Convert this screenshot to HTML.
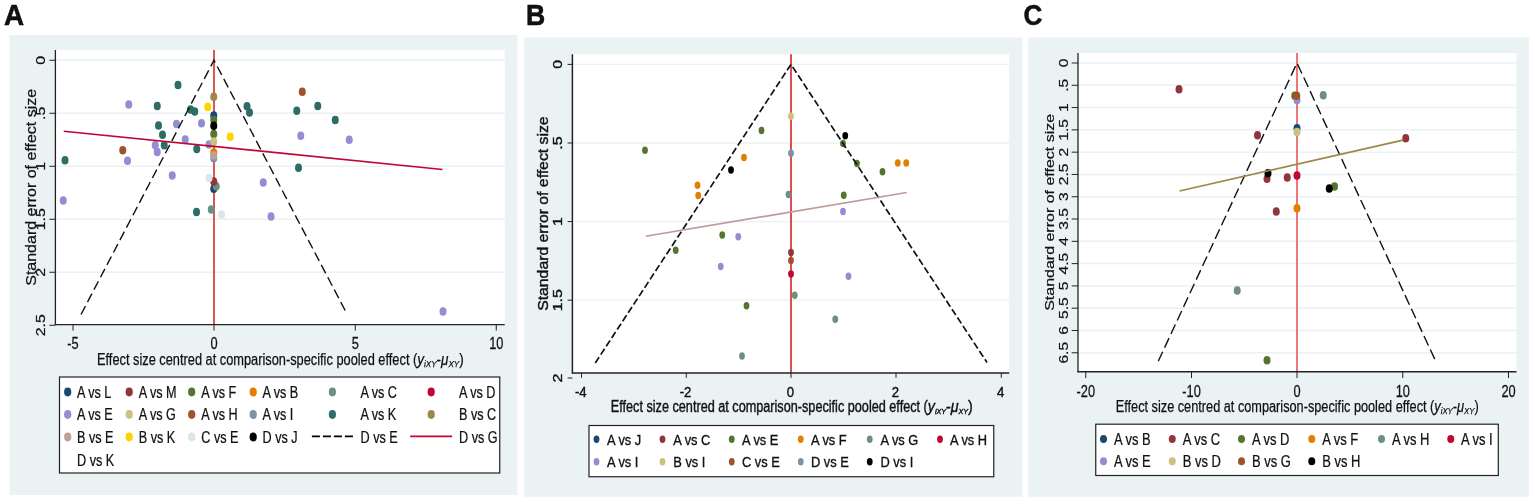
<!DOCTYPE html>
<html><head><meta charset="utf-8"><title>Funnel plots</title>
<style>html,body{margin:0;padding:0;background:#fff}svg{display:block}text{font-family:"Liberation Sans",Arial,sans-serif;fill:#111}</style></head><body>
<svg width="1535" height="504" viewBox="0 0 1535 504">
<rect width="1535" height="504" fill="#fff"/>
<rect x="9.5" y="35" width="508.0" height="460" fill="#eaf2f3"/>
<rect x="55.4" y="50" width="449.3" height="274.6" fill="#fff"/>
<line x1="55.4" x2="504.7" y1="60.25" y2="60.25" stroke="#eaf2f3" stroke-width="1.3"/>
<line x1="55.4" x2="504.7" y1="113.25" y2="113.25" stroke="#eaf2f3" stroke-width="1.3"/>
<line x1="55.4" x2="504.7" y1="166.25" y2="166.25" stroke="#eaf2f3" stroke-width="1.3"/>
<line x1="55.4" x2="504.7" y1="219.25" y2="219.25" stroke="#eaf2f3" stroke-width="1.3"/>
<line x1="55.4" x2="504.7" y1="272.25" y2="272.25" stroke="#eaf2f3" stroke-width="1.3"/>
<line x1="214" x2="214" y1="50" y2="324.6" stroke="#db5654" stroke-width="2"/>
<ellipse cx="213.75" cy="115.50" rx="3.5" ry="4.3" fill="#1a476f"/>
<ellipse cx="213.75" cy="188.75" rx="3.5" ry="4.3" fill="#1a476f"/>
<ellipse cx="213.75" cy="120.00" rx="3.5" ry="4.3" fill="#55752f"/>
<ellipse cx="213.75" cy="134.00" rx="3.5" ry="4.3" fill="#55752f"/>
<ellipse cx="213.75" cy="152.50" rx="3.5" ry="4.3" fill="#e37e00"/>
<ellipse cx="216.25" cy="186.25" rx="3.5" ry="4.3" fill="#6e8e84"/>
<ellipse cx="211.25" cy="209.50" rx="3.5" ry="4.3" fill="#6e8e84"/>
<ellipse cx="213.75" cy="181.50" rx="3.5" ry="4.3" fill="#90353b"/>
<ellipse cx="128.75" cy="104.50" rx="3.5" ry="4.3" fill="#938dd2"/>
<ellipse cx="201.50" cy="123.25" rx="3.5" ry="4.3" fill="#938dd2"/>
<ellipse cx="176.50" cy="124.00" rx="3.5" ry="4.3" fill="#938dd2"/>
<ellipse cx="185.25" cy="139.50" rx="3.5" ry="4.3" fill="#938dd2"/>
<ellipse cx="209.00" cy="144.50" rx="3.5" ry="4.3" fill="#938dd2"/>
<ellipse cx="155.25" cy="145.25" rx="3.5" ry="4.3" fill="#938dd2"/>
<ellipse cx="157.25" cy="152.00" rx="3.5" ry="4.3" fill="#938dd2"/>
<ellipse cx="127.50" cy="160.75" rx="3.5" ry="4.3" fill="#938dd2"/>
<ellipse cx="172.25" cy="175.50" rx="3.5" ry="4.3" fill="#938dd2"/>
<ellipse cx="63.25" cy="200.50" rx="3.5" ry="4.3" fill="#938dd2"/>
<ellipse cx="300.75" cy="135.75" rx="3.5" ry="4.3" fill="#938dd2"/>
<ellipse cx="349.25" cy="139.75" rx="3.5" ry="4.3" fill="#938dd2"/>
<ellipse cx="263.25" cy="182.50" rx="3.5" ry="4.3" fill="#938dd2"/>
<ellipse cx="271.00" cy="216.50" rx="3.5" ry="4.3" fill="#938dd2"/>
<ellipse cx="443.00" cy="311.50" rx="3.5" ry="4.3" fill="#938dd2"/>
<ellipse cx="213.75" cy="141.50" rx="3.5" ry="4.3" fill="#cac27e"/>
<ellipse cx="122.75" cy="150.25" rx="3.5" ry="4.3" fill="#a0522d"/>
<ellipse cx="302.25" cy="91.75" rx="3.5" ry="4.3" fill="#a0522d"/>
<ellipse cx="213.75" cy="158.25" rx="3.5" ry="4.3" fill="#7b92a8"/>
<ellipse cx="178.00" cy="85.00" rx="3.5" ry="4.3" fill="#2d6d66"/>
<ellipse cx="157.25" cy="106.00" rx="3.5" ry="4.3" fill="#2d6d66"/>
<ellipse cx="190.50" cy="109.50" rx="3.5" ry="4.3" fill="#2d6d66"/>
<ellipse cx="194.75" cy="111.50" rx="3.5" ry="4.3" fill="#2d6d66"/>
<ellipse cx="247.00" cy="106.25" rx="3.5" ry="4.3" fill="#2d6d66"/>
<ellipse cx="249.50" cy="112.50" rx="3.5" ry="4.3" fill="#2d6d66"/>
<ellipse cx="158.50" cy="125.50" rx="3.5" ry="4.3" fill="#2d6d66"/>
<ellipse cx="162.50" cy="134.75" rx="3.5" ry="4.3" fill="#2d6d66"/>
<ellipse cx="164.25" cy="145.25" rx="3.5" ry="4.3" fill="#2d6d66"/>
<ellipse cx="196.75" cy="149.00" rx="3.5" ry="4.3" fill="#2d6d66"/>
<ellipse cx="65.00" cy="160.25" rx="3.5" ry="4.3" fill="#2d6d66"/>
<ellipse cx="196.50" cy="212.00" rx="3.5" ry="4.3" fill="#2d6d66"/>
<ellipse cx="296.75" cy="110.75" rx="3.5" ry="4.3" fill="#2d6d66"/>
<ellipse cx="317.75" cy="106.00" rx="3.5" ry="4.3" fill="#2d6d66"/>
<ellipse cx="335.25" cy="120.00" rx="3.5" ry="4.3" fill="#2d6d66"/>
<ellipse cx="298.50" cy="167.75" rx="3.5" ry="4.3" fill="#2d6d66"/>
<ellipse cx="213.75" cy="96.75" rx="3.5" ry="4.3" fill="#9c8847"/>
<ellipse cx="213.75" cy="155.50" rx="3.5" ry="4.3" fill="#bfa19c"/>
<ellipse cx="207.75" cy="107.00" rx="3.5" ry="4.3" fill="#ffd200"/>
<ellipse cx="230.25" cy="136.75" rx="3.5" ry="4.3" fill="#ffd200"/>
<ellipse cx="209.00" cy="178.00" rx="3.5" ry="4.3" fill="#d9e6eb"/>
<ellipse cx="221.50" cy="214.50" rx="3.5" ry="4.3" fill="#d9e6eb"/>
<ellipse cx="213.75" cy="125.75" rx="3.5" ry="4.3" fill="#000000"/>
<path d="M81,314.5 L214,60.25 L346.5,313" fill="none" stroke="#111" stroke-width="1.4" stroke-dasharray="9.5 4.5"/>
<line x1="63.75" y1="131.25" x2="442.5" y2="169.5" stroke="#c10534" stroke-width="1.7"/>
<line x1="55.4" x2="55.4" y1="50" y2="325.1" stroke="#222" stroke-width="1.3"/>
<line x1="54.9" x2="504.7" y1="324.6" y2="324.6" stroke="#222" stroke-width="1.3"/>
<line x1="49.4" x2="55.4" y1="60.25" y2="60.25" stroke="#222" stroke-width="1"/>
<text transform="translate(45.20,60.25) rotate(-90) scale(1,0.82)" font-size="16" text-anchor="middle" stroke="#111" stroke-width="0.3">0</text>
<line x1="49.4" x2="55.4" y1="113.25" y2="113.25" stroke="#222" stroke-width="1"/>
<text transform="translate(45.20,113.25) rotate(-90) scale(1,0.82)" font-size="16" text-anchor="middle" stroke="#111" stroke-width="0.3">.5</text>
<line x1="49.4" x2="55.4" y1="166.25" y2="166.25" stroke="#222" stroke-width="1"/>
<text transform="translate(45.20,166.25) rotate(-90) scale(1,0.82)" font-size="16" text-anchor="middle" stroke="#111" stroke-width="0.3">1</text>
<line x1="49.4" x2="55.4" y1="219.25" y2="219.25" stroke="#222" stroke-width="1"/>
<text transform="translate(45.20,219.25) rotate(-90) scale(1,0.82)" font-size="16" text-anchor="middle" stroke="#111" stroke-width="0.3">1.5</text>
<line x1="49.4" x2="55.4" y1="272.25" y2="272.25" stroke="#222" stroke-width="1"/>
<text transform="translate(45.20,272.25) rotate(-90) scale(1,0.82)" font-size="16" text-anchor="middle" stroke="#111" stroke-width="0.3">2</text>
<line x1="49.4" x2="55.4" y1="325.25" y2="325.25" stroke="#222" stroke-width="1"/>
<text transform="translate(45.20,325.25) rotate(-90) scale(1,0.82)" font-size="16" text-anchor="middle" stroke="#111" stroke-width="0.3">2.5</text>
<line x1="73" x2="73" y1="324.6" y2="330.6" stroke="#222" stroke-width="1"/>
<text transform="translate(73.00,349.00) scale(0.8,1)" font-size="16" text-anchor="middle" stroke="#111" stroke-width="0.25">-5</text>
<line x1="214" x2="214" y1="324.6" y2="330.6" stroke="#222" stroke-width="1"/>
<text transform="translate(214.00,349.00) scale(0.8,1)" font-size="16" text-anchor="middle" stroke="#111" stroke-width="0.25">0</text>
<line x1="355.25" x2="355.25" y1="324.6" y2="330.6" stroke="#222" stroke-width="1"/>
<text transform="translate(355.25,349.00) scale(0.8,1)" font-size="16" text-anchor="middle" stroke="#111" stroke-width="0.25">5</text>
<line x1="496.25" x2="496.25" y1="324.6" y2="330.6" stroke="#222" stroke-width="1"/>
<text transform="translate(496.25,349.00) scale(0.8,1)" font-size="16" text-anchor="middle" stroke="#111" stroke-width="0.25">10</text>
<text transform="translate(35.70,187.30) rotate(-90) scale(1,0.86)" font-size="16" text-anchor="middle" stroke="#111" stroke-width="0.25">Standard error of effect size</text>
<text x="97.00" y="365.00" font-size="16" textLength="320.25" lengthAdjust="spacingAndGlyphs" stroke="#111" stroke-width="0.25">Effect size centred at comparison-specific pooled effect (</text>
<text x="417.25" y="365.00" font-size="16" textLength="46.45" lengthAdjust="spacingAndGlyphs" stroke="#111" stroke-width="0.25"><tspan font-style="italic">y</tspan><tspan font-size="9.6" font-style="italic" dy="1.9">iXY</tspan><tspan dy="-1.9">-</tspan><tspan font-style="italic">μ</tspan><tspan font-size="9.6" font-style="italic" dy="1.9">XY</tspan><tspan dy="-1.9">)</tspan></text>
<rect x="59.5" y="377" width="440.25" height="96" fill="#fff" stroke="#222" stroke-width="1.2"/>
<ellipse cx="67.70" cy="392.00" rx="3.6" ry="4.4" fill="#1a476f"/>
<text transform="translate(77.00,397.50) scale(0.79,1)" font-size="16" text-anchor="start" stroke="#111" stroke-width="0.25">A vs L</text>
<ellipse cx="129.20" cy="392.00" rx="3.6" ry="4.4" fill="#90353b"/>
<text transform="translate(138.75,397.50) scale(0.79,1)" font-size="16" text-anchor="start" stroke="#111" stroke-width="0.25">A vs M</text>
<ellipse cx="191.70" cy="392.00" rx="3.6" ry="4.4" fill="#55752f"/>
<text transform="translate(201.25,397.50) scale(0.79,1)" font-size="16" text-anchor="start" stroke="#111" stroke-width="0.25">A vs F</text>
<ellipse cx="253.20" cy="392.00" rx="3.6" ry="4.4" fill="#e37e00"/>
<text transform="translate(262.50,397.50) scale(0.79,1)" font-size="16" text-anchor="start" stroke="#111" stroke-width="0.25">A vs B</text>
<ellipse cx="332.40" cy="392.00" rx="3.6" ry="4.4" fill="#6e8e84"/>
<text transform="translate(360.50,397.50) scale(0.79,1)" font-size="16" text-anchor="start" stroke="#111" stroke-width="0.25">A vs C</text>
<ellipse cx="431.20" cy="392.00" rx="3.6" ry="4.4" fill="#c10534"/>
<text transform="translate(459.00,397.50) scale(0.79,1)" font-size="16" text-anchor="start" stroke="#111" stroke-width="0.25">A vs D</text>
<ellipse cx="67.70" cy="414.50" rx="3.6" ry="4.4" fill="#938dd2"/>
<text transform="translate(77.00,420.00) scale(0.79,1)" font-size="16" text-anchor="start" stroke="#111" stroke-width="0.25">A vs E</text>
<ellipse cx="129.20" cy="414.50" rx="3.6" ry="4.4" fill="#cac27e"/>
<text transform="translate(138.75,420.00) scale(0.79,1)" font-size="16" text-anchor="start" stroke="#111" stroke-width="0.25">A vs G</text>
<ellipse cx="191.70" cy="414.50" rx="3.6" ry="4.4" fill="#a0522d"/>
<text transform="translate(201.25,420.00) scale(0.79,1)" font-size="16" text-anchor="start" stroke="#111" stroke-width="0.25">A vs H</text>
<ellipse cx="253.20" cy="414.50" rx="3.6" ry="4.4" fill="#7b92a8"/>
<text transform="translate(262.50,420.00) scale(0.79,1)" font-size="16" text-anchor="start" stroke="#111" stroke-width="0.25">A vs I</text>
<ellipse cx="332.40" cy="414.50" rx="3.6" ry="4.4" fill="#2d6d66"/>
<text transform="translate(360.50,420.00) scale(0.79,1)" font-size="16" text-anchor="start" stroke="#111" stroke-width="0.25">A vs K</text>
<ellipse cx="431.20" cy="414.50" rx="3.6" ry="4.4" fill="#9c8847"/>
<text transform="translate(459.00,420.00) scale(0.79,1)" font-size="16" text-anchor="start" stroke="#111" stroke-width="0.25">B vs C</text>
<ellipse cx="67.70" cy="437.00" rx="3.6" ry="4.4" fill="#bfa19c"/>
<text transform="translate(77.00,442.50) scale(0.79,1)" font-size="16" text-anchor="start" stroke="#111" stroke-width="0.25">B vs E</text>
<ellipse cx="129.20" cy="437.00" rx="3.6" ry="4.4" fill="#ffd200"/>
<text transform="translate(138.75,442.50) scale(0.79,1)" font-size="16" text-anchor="start" stroke="#111" stroke-width="0.25">B vs K</text>
<ellipse cx="191.70" cy="437.00" rx="3.6" ry="4.4" fill="#d9e6eb"/>
<text transform="translate(201.25,442.50) scale(0.79,1)" font-size="16" text-anchor="start" stroke="#111" stroke-width="0.25">C vs E</text>
<ellipse cx="253.20" cy="437.00" rx="3.6" ry="4.4" fill="#000000"/>
<text transform="translate(262.50,442.50) scale(0.79,1)" font-size="16" text-anchor="start" stroke="#111" stroke-width="0.25">D vs J</text>
<line x1="311.9" x2="352.9" y1="436.4" y2="436.4" stroke="#000" stroke-width="1.8" stroke-dasharray="8 3"/>
<text transform="translate(360.50,442.50) scale(0.79,1)" font-size="16" text-anchor="start" stroke="#111" stroke-width="0.25">D vs E</text>
<line x1="410.2" x2="452.2" y1="436.4" y2="436.4" stroke="#c10534" stroke-width="1.8"/>
<text transform="translate(459.00,442.50) scale(0.79,1)" font-size="16" text-anchor="start" stroke="#111" stroke-width="0.25">D vs G</text>
<text transform="translate(77.00,465.50) scale(0.79,1)" font-size="16" text-anchor="start" stroke="#111" stroke-width="0.25">D vs K</text>
<rect x="524.2" y="37.5" width="498.29999999999995" height="459.25" fill="#eaf2f3"/>
<rect x="572.4" y="54.25" width="436.85" height="318.75" fill="#fff"/>
<line x1="572.4" x2="1009.25" y1="64.4" y2="64.4" stroke="#eaf2f3" stroke-width="1.3"/>
<line x1="572.4" x2="1009.25" y1="143" y2="143" stroke="#eaf2f3" stroke-width="1.3"/>
<line x1="572.4" x2="1009.25" y1="221.6" y2="221.6" stroke="#eaf2f3" stroke-width="1.3"/>
<line x1="572.4" x2="1009.25" y1="300.2" y2="300.2" stroke="#eaf2f3" stroke-width="1.3"/>
<line x1="791" x2="791" y1="54.25" y2="373" stroke="#dc3a3c" stroke-width="1.8"/>
<ellipse cx="791.00" cy="252.50" rx="2.9" ry="3.7" fill="#90353b"/>
<ellipse cx="761.50" cy="130.50" rx="2.9" ry="3.7" fill="#55752f"/>
<ellipse cx="645.00" cy="150.25" rx="2.9" ry="3.7" fill="#55752f"/>
<ellipse cx="843.00" cy="143.50" rx="2.9" ry="3.7" fill="#55752f"/>
<ellipse cx="857.00" cy="163.50" rx="2.9" ry="3.7" fill="#55752f"/>
<ellipse cx="882.50" cy="171.75" rx="2.9" ry="3.7" fill="#55752f"/>
<ellipse cx="722.25" cy="235.00" rx="2.9" ry="3.7" fill="#55752f"/>
<ellipse cx="675.75" cy="250.25" rx="2.9" ry="3.7" fill="#55752f"/>
<ellipse cx="843.75" cy="195.25" rx="2.9" ry="3.7" fill="#55752f"/>
<ellipse cx="746.50" cy="305.75" rx="2.9" ry="3.7" fill="#55752f"/>
<ellipse cx="744.00" cy="157.50" rx="2.9" ry="3.7" fill="#e37e00"/>
<ellipse cx="697.50" cy="185.25" rx="2.9" ry="3.7" fill="#e37e00"/>
<ellipse cx="698.25" cy="195.50" rx="2.9" ry="3.7" fill="#e37e00"/>
<ellipse cx="897.75" cy="163.00" rx="2.9" ry="3.7" fill="#e37e00"/>
<ellipse cx="906.25" cy="163.00" rx="2.9" ry="3.7" fill="#e37e00"/>
<ellipse cx="788.50" cy="194.50" rx="2.9" ry="3.7" fill="#6e8e84"/>
<ellipse cx="794.75" cy="295.25" rx="2.9" ry="3.7" fill="#6e8e84"/>
<ellipse cx="835.25" cy="319.25" rx="2.9" ry="3.7" fill="#6e8e84"/>
<ellipse cx="742.00" cy="356.00" rx="2.9" ry="3.7" fill="#6e8e84"/>
<ellipse cx="791.00" cy="274.00" rx="2.9" ry="3.7" fill="#c10534"/>
<ellipse cx="738.25" cy="236.75" rx="2.9" ry="3.7" fill="#938dd2"/>
<ellipse cx="720.75" cy="266.50" rx="2.9" ry="3.7" fill="#938dd2"/>
<ellipse cx="843.00" cy="211.50" rx="2.9" ry="3.7" fill="#938dd2"/>
<ellipse cx="848.50" cy="276.25" rx="2.9" ry="3.7" fill="#938dd2"/>
<ellipse cx="791.00" cy="116.25" rx="2.9" ry="3.7" fill="#cac27e"/>
<ellipse cx="791.00" cy="260.50" rx="2.9" ry="3.7" fill="#a0522d"/>
<ellipse cx="791.00" cy="153.25" rx="2.9" ry="3.7" fill="#7b92a8"/>
<ellipse cx="845.25" cy="135.75" rx="2.9" ry="3.7" fill="#000000"/>
<ellipse cx="731.00" cy="170.00" rx="2.9" ry="3.7" fill="#000000"/>
<path d="M595.25,363 L791,64.4 L987,362.5" fill="none" stroke="#111" stroke-width="1.7" stroke-dasharray="7 3"/>
<line x1="645.75" y1="236.25" x2="906.75" y2="192.5" stroke="#bf9a98" stroke-width="1.7"/>
<line x1="572.4" x2="572.4" y1="54.25" y2="373.5" stroke="#222" stroke-width="1.5"/>
<line x1="571.9" x2="1009.25" y1="373" y2="373" stroke="#222" stroke-width="1.5"/>
<line x1="567.6" x2="572.4" y1="64.4" y2="64.4" stroke="#222" stroke-width="1"/>
<text transform="translate(562.00,64.40) rotate(-90) scale(1,0.82)" font-size="16" text-anchor="middle" stroke="#111" stroke-width="0.45">0</text>
<line x1="567.6" x2="572.4" y1="143" y2="143" stroke="#222" stroke-width="1"/>
<text transform="translate(562.00,143.00) rotate(-90) scale(1,0.82)" font-size="16" text-anchor="middle" stroke="#111" stroke-width="0.45">.5</text>
<line x1="567.6" x2="572.4" y1="221.6" y2="221.6" stroke="#222" stroke-width="1"/>
<text transform="translate(562.00,221.60) rotate(-90) scale(1,0.82)" font-size="16" text-anchor="middle" stroke="#111" stroke-width="0.45">1</text>
<line x1="567.6" x2="572.4" y1="300.2" y2="300.2" stroke="#222" stroke-width="1"/>
<text transform="translate(562.00,300.20) rotate(-90) scale(1,0.82)" font-size="16" text-anchor="middle" stroke="#111" stroke-width="0.45">1.5</text>
<line x1="567.6" x2="572.4" y1="378" y2="378" stroke="#222" stroke-width="1"/>
<text transform="translate(562.00,378.00) rotate(-90) scale(1,0.82)" font-size="16" text-anchor="middle" stroke="#111" stroke-width="0.45">2</text>
<line x1="581.5" x2="581.5" y1="373" y2="377.8" stroke="#222" stroke-width="1"/>
<text transform="translate(580.80,397.20) scale(0.88,1)" font-size="15" text-anchor="middle" stroke="#111" stroke-width="0.4">-4</text>
<line x1="686.25" x2="686.25" y1="373" y2="377.8" stroke="#222" stroke-width="1"/>
<text transform="translate(685.55,397.20) scale(0.88,1)" font-size="15" text-anchor="middle" stroke="#111" stroke-width="0.4">-2</text>
<line x1="791" x2="791" y1="373" y2="377.8" stroke="#222" stroke-width="1"/>
<text transform="translate(790.30,397.20) scale(0.88,1)" font-size="15" text-anchor="middle" stroke="#111" stroke-width="0.4">0</text>
<line x1="896" x2="896" y1="373" y2="377.8" stroke="#222" stroke-width="1"/>
<text transform="translate(895.30,397.20) scale(0.88,1)" font-size="15" text-anchor="middle" stroke="#111" stroke-width="0.4">2</text>
<line x1="1001.25" x2="1001.25" y1="373" y2="377.8" stroke="#222" stroke-width="1"/>
<text transform="translate(1000.55,397.20) scale(0.88,1)" font-size="15" text-anchor="middle" stroke="#111" stroke-width="0.4">4</text>
<text transform="translate(548.30,213.62) rotate(-90) scale(1,0.9)" font-size="15.8" text-anchor="middle" stroke="#111" stroke-width="0.45">Standard error of effect size</text>
<text x="610.75" y="412.30" font-size="16" textLength="317.05" lengthAdjust="spacingAndGlyphs" stroke="#111" stroke-width="0.4">Effect size centred at comparison-specific pooled effect (</text>
<text x="927.80" y="412.30" font-size="16" textLength="45.00" lengthAdjust="spacingAndGlyphs" stroke="#111" stroke-width="0.4"><tspan font-style="italic">y</tspan><tspan font-size="8.0" font-style="italic" dy="1.9">iXY</tspan><tspan dy="-1.9">-</tspan><tspan font-style="italic">μ</tspan><tspan font-size="8.0" font-style="italic" dy="1.9">XY</tspan><tspan dy="-1.9">)</tspan></text>
<rect x="589" y="425.5" width="404.75" height="51.25" fill="#fff" stroke="#222" stroke-width="1.2"/>
<ellipse cx="596.50" cy="439.30" rx="2.9" ry="3.7" fill="#1a476f"/>
<text transform="translate(607.00,444.80) scale(0.83,1)" font-size="15.5" text-anchor="start" stroke="#111" stroke-width="0.35">A vs J</text>
<ellipse cx="662.50" cy="439.30" rx="2.9" ry="3.7" fill="#90353b"/>
<text transform="translate(673.25,444.80) scale(0.83,1)" font-size="15.5" text-anchor="start" stroke="#111" stroke-width="0.35">A vs C</text>
<ellipse cx="731.75" cy="439.30" rx="2.9" ry="3.7" fill="#55752f"/>
<text transform="translate(742.00,444.80) scale(0.83,1)" font-size="15.5" text-anchor="start" stroke="#111" stroke-width="0.35">A vs E</text>
<ellipse cx="800.75" cy="439.30" rx="2.9" ry="3.7" fill="#e37e00"/>
<text transform="translate(811.00,444.80) scale(0.83,1)" font-size="15.5" text-anchor="start" stroke="#111" stroke-width="0.35">A vs F</text>
<ellipse cx="869.75" cy="439.30" rx="2.9" ry="3.7" fill="#6e8e84"/>
<text transform="translate(880.50,444.80) scale(0.83,1)" font-size="15.5" text-anchor="start" stroke="#111" stroke-width="0.35">A vs G</text>
<ellipse cx="940.00" cy="439.30" rx="2.9" ry="3.7" fill="#c10534"/>
<text transform="translate(950.00,444.80) scale(0.83,1)" font-size="15.5" text-anchor="start" stroke="#111" stroke-width="0.35">A vs H</text>
<ellipse cx="596.50" cy="461.80" rx="2.9" ry="3.7" fill="#938dd2"/>
<text transform="translate(607.00,467.30) scale(0.83,1)" font-size="15.5" text-anchor="start" stroke="#111" stroke-width="0.35">A vs I</text>
<ellipse cx="662.50" cy="461.80" rx="2.9" ry="3.7" fill="#cac27e"/>
<text transform="translate(673.25,467.30) scale(0.83,1)" font-size="15.5" text-anchor="start" stroke="#111" stroke-width="0.35">B vs I</text>
<ellipse cx="731.75" cy="461.80" rx="2.9" ry="3.7" fill="#a0522d"/>
<text transform="translate(742.00,467.30) scale(0.83,1)" font-size="15.5" text-anchor="start" stroke="#111" stroke-width="0.35">C vs E</text>
<ellipse cx="800.75" cy="461.80" rx="2.9" ry="3.7" fill="#7b92a8"/>
<text transform="translate(811.00,467.30) scale(0.83,1)" font-size="15.5" text-anchor="start" stroke="#111" stroke-width="0.35">D vs E</text>
<ellipse cx="869.75" cy="461.80" rx="2.9" ry="3.7" fill="#000000"/>
<text transform="translate(880.50,467.30) scale(0.83,1)" font-size="15.5" text-anchor="start" stroke="#111" stroke-width="0.35">D vs I</text>
<rect x="1028.2" y="37.5" width="500.79999999999995" height="459.25" fill="#eaf2f3"/>
<rect x="1078" y="53" width="438.5" height="318.75" fill="#fff"/>
<line x1="1078" x2="1516.5" y1="63.0" y2="63.0" stroke="#eaf2f3" stroke-width="1.5"/>
<line x1="1078" x2="1516.5" y1="85.29" y2="85.29" stroke="#eaf2f3" stroke-width="1.5"/>
<line x1="1078" x2="1516.5" y1="107.58" y2="107.58" stroke="#eaf2f3" stroke-width="1.5"/>
<line x1="1078" x2="1516.5" y1="129.87" y2="129.87" stroke="#eaf2f3" stroke-width="1.5"/>
<line x1="1078" x2="1516.5" y1="152.16" y2="152.16" stroke="#eaf2f3" stroke-width="1.5"/>
<line x1="1078" x2="1516.5" y1="174.45" y2="174.45" stroke="#eaf2f3" stroke-width="1.5"/>
<line x1="1078" x2="1516.5" y1="196.74" y2="196.74" stroke="#eaf2f3" stroke-width="1.5"/>
<line x1="1078" x2="1516.5" y1="219.03" y2="219.03" stroke="#eaf2f3" stroke-width="1.5"/>
<line x1="1078" x2="1516.5" y1="241.32" y2="241.32" stroke="#eaf2f3" stroke-width="1.5"/>
<line x1="1078" x2="1516.5" y1="263.61" y2="263.61" stroke="#eaf2f3" stroke-width="1.5"/>
<line x1="1078" x2="1516.5" y1="285.9" y2="285.9" stroke="#eaf2f3" stroke-width="1.5"/>
<line x1="1078" x2="1516.5" y1="308.19" y2="308.19" stroke="#eaf2f3" stroke-width="1.5"/>
<line x1="1078" x2="1516.5" y1="330.48" y2="330.48" stroke="#eaf2f3" stroke-width="1.5"/>
<line x1="1078" x2="1516.5" y1="352.77" y2="352.77" stroke="#eaf2f3" stroke-width="1.5"/>
<line x1="1297" x2="1297" y1="53" y2="371.75" stroke="#ee7876" stroke-width="2"/>
<ellipse cx="1297.00" cy="128.25" rx="3.5" ry="4.3" fill="#1a476f"/>
<ellipse cx="1179.00" cy="89.25" rx="3.5" ry="4.3" fill="#90353b"/>
<ellipse cx="1257.50" cy="135.25" rx="3.5" ry="4.3" fill="#90353b"/>
<ellipse cx="1267.00" cy="178.75" rx="3.5" ry="4.3" fill="#90353b"/>
<ellipse cx="1276.25" cy="211.50" rx="3.5" ry="4.3" fill="#90353b"/>
<ellipse cx="1405.75" cy="138.25" rx="3.5" ry="4.3" fill="#90353b"/>
<ellipse cx="1287.25" cy="177.50" rx="3.5" ry="4.3" fill="#90353b"/>
<ellipse cx="1294.75" cy="95.75" rx="3.5" ry="4.3" fill="#55752f"/>
<ellipse cx="1334.50" cy="186.50" rx="3.5" ry="4.3" fill="#55752f"/>
<ellipse cx="1267.00" cy="360.25" rx="3.5" ry="4.3" fill="#55752f"/>
<ellipse cx="1297.00" cy="208.25" rx="3.5" ry="4.3" fill="#e37e00"/>
<ellipse cx="1323.25" cy="95.25" rx="3.5" ry="4.3" fill="#6e8e84"/>
<ellipse cx="1237.25" cy="290.50" rx="3.5" ry="4.3" fill="#6e8e84"/>
<ellipse cx="1297.00" cy="175.50" rx="3.5" ry="4.3" fill="#c10534"/>
<ellipse cx="1297.00" cy="100.00" rx="3.5" ry="4.3" fill="#938dd2"/>
<ellipse cx="1297.00" cy="132.00" rx="3.5" ry="4.3" fill="#cac27e"/>
<ellipse cx="1296.75" cy="95.75" rx="3.5" ry="4.3" fill="#a0522d"/>
<ellipse cx="1268.00" cy="173.25" rx="3.5" ry="4.3" fill="#000000"/>
<ellipse cx="1329.25" cy="188.50" rx="3.5" ry="4.3" fill="#000000"/>
<path d="M1158.25,361.25 L1297,63 L1435.75,361.25" fill="none" stroke="#111" stroke-width="1.4" stroke-dasharray="10.5 4.5"/>
<line x1="1179.5" y1="191" x2="1403" y2="140.2" stroke="#9c8847" stroke-width="1.7"/>
<line x1="1078" x2="1078" y1="53" y2="372.25" stroke="#222" stroke-width="1.3"/>
<line x1="1077.5" x2="1516.5" y1="371.75" y2="371.75" stroke="#222" stroke-width="1.3"/>
<line x1="1071.7" x2="1078" y1="63.0" y2="63.0" stroke="#222" stroke-width="1"/>
<text transform="translate(1068.00,63.00) rotate(-90) scale(1,0.78)" font-size="15.6" text-anchor="middle" stroke="#111" stroke-width="0.25">0</text>
<line x1="1071.7" x2="1078" y1="85.29" y2="85.29" stroke="#222" stroke-width="1"/>
<text transform="translate(1068.00,85.29) rotate(-90) scale(1,0.78)" font-size="15.6" text-anchor="middle" stroke="#111" stroke-width="0.25">.5</text>
<line x1="1071.7" x2="1078" y1="107.58" y2="107.58" stroke="#222" stroke-width="1"/>
<text transform="translate(1068.00,107.58) rotate(-90) scale(1,0.78)" font-size="15.6" text-anchor="middle" stroke="#111" stroke-width="0.25">1</text>
<line x1="1071.7" x2="1078" y1="129.87" y2="129.87" stroke="#222" stroke-width="1"/>
<text transform="translate(1068.00,129.87) rotate(-90) scale(1,0.78)" font-size="15.6" text-anchor="middle" stroke="#111" stroke-width="0.25">1.5</text>
<line x1="1071.7" x2="1078" y1="152.16" y2="152.16" stroke="#222" stroke-width="1"/>
<text transform="translate(1068.00,152.16) rotate(-90) scale(1,0.78)" font-size="15.6" text-anchor="middle" stroke="#111" stroke-width="0.25">2</text>
<line x1="1071.7" x2="1078" y1="174.45" y2="174.45" stroke="#222" stroke-width="1"/>
<text transform="translate(1068.00,174.45) rotate(-90) scale(1,0.78)" font-size="15.6" text-anchor="middle" stroke="#111" stroke-width="0.25">2.5</text>
<line x1="1071.7" x2="1078" y1="196.74" y2="196.74" stroke="#222" stroke-width="1"/>
<text transform="translate(1068.00,196.74) rotate(-90) scale(1,0.78)" font-size="15.6" text-anchor="middle" stroke="#111" stroke-width="0.25">3</text>
<line x1="1071.7" x2="1078" y1="219.03" y2="219.03" stroke="#222" stroke-width="1"/>
<text transform="translate(1068.00,219.03) rotate(-90) scale(1,0.78)" font-size="15.6" text-anchor="middle" stroke="#111" stroke-width="0.25">3.5</text>
<line x1="1071.7" x2="1078" y1="241.32" y2="241.32" stroke="#222" stroke-width="1"/>
<text transform="translate(1068.00,241.32) rotate(-90) scale(1,0.78)" font-size="15.6" text-anchor="middle" stroke="#111" stroke-width="0.25">4</text>
<line x1="1071.7" x2="1078" y1="263.61" y2="263.61" stroke="#222" stroke-width="1"/>
<text transform="translate(1068.00,263.61) rotate(-90) scale(1,0.78)" font-size="15.6" text-anchor="middle" stroke="#111" stroke-width="0.25">4.5</text>
<line x1="1071.7" x2="1078" y1="285.9" y2="285.9" stroke="#222" stroke-width="1"/>
<text transform="translate(1068.00,285.90) rotate(-90) scale(1,0.78)" font-size="15.6" text-anchor="middle" stroke="#111" stroke-width="0.25">5</text>
<line x1="1071.7" x2="1078" y1="308.19" y2="308.19" stroke="#222" stroke-width="1"/>
<text transform="translate(1068.00,308.19) rotate(-90) scale(1,0.78)" font-size="15.6" text-anchor="middle" stroke="#111" stroke-width="0.25">5.5</text>
<line x1="1071.7" x2="1078" y1="330.48" y2="330.48" stroke="#222" stroke-width="1"/>
<text transform="translate(1068.00,330.48) rotate(-90) scale(1,0.78)" font-size="15.6" text-anchor="middle" stroke="#111" stroke-width="0.25">6</text>
<line x1="1071.7" x2="1078" y1="352.77" y2="352.77" stroke="#222" stroke-width="1"/>
<text transform="translate(1068.00,352.77) rotate(-90) scale(1,0.78)" font-size="15.6" text-anchor="middle" stroke="#111" stroke-width="0.25">6.5</text>
<line x1="1085.75" x2="1085.75" y1="371.75" y2="378.05" stroke="#222" stroke-width="1"/>
<text transform="translate(1085.75,396.60) scale(0.8,1)" font-size="16" text-anchor="middle" stroke="#111" stroke-width="0.25">-20</text>
<line x1="1191.5" x2="1191.5" y1="371.75" y2="378.05" stroke="#222" stroke-width="1"/>
<text transform="translate(1191.50,396.60) scale(0.8,1)" font-size="16" text-anchor="middle" stroke="#111" stroke-width="0.25">-10</text>
<line x1="1297" x2="1297" y1="371.75" y2="378.05" stroke="#222" stroke-width="1"/>
<text transform="translate(1297.00,396.60) scale(0.8,1)" font-size="16" text-anchor="middle" stroke="#111" stroke-width="0.25">0</text>
<line x1="1402.75" x2="1402.75" y1="371.75" y2="378.05" stroke="#222" stroke-width="1"/>
<text transform="translate(1402.75,396.60) scale(0.8,1)" font-size="16" text-anchor="middle" stroke="#111" stroke-width="0.25">10</text>
<line x1="1508.5" x2="1508.5" y1="371.75" y2="378.05" stroke="#222" stroke-width="1"/>
<text transform="translate(1508.50,396.60) scale(0.8,1)" font-size="16" text-anchor="middle" stroke="#111" stroke-width="0.25">20</text>
<text transform="translate(1054.00,212.38) rotate(-90) scale(1,0.78)" font-size="16" text-anchor="middle" stroke="#111" stroke-width="0.25">Standard error of effect size</text>
<text x="1115.75" y="411.75" font-size="16" textLength="318.55" lengthAdjust="spacingAndGlyphs" stroke="#111" stroke-width="0.25">Effect size centred at comparison-specific pooled effect (</text>
<text x="1434.30" y="411.75" font-size="16" textLength="44.40" lengthAdjust="spacingAndGlyphs" stroke="#111" stroke-width="0.25"><tspan font-style="italic">y</tspan><tspan font-size="9.6" font-style="italic" dy="1.9">iXY</tspan><tspan dy="-1.9">-</tspan><tspan font-style="italic">μ</tspan><tspan font-size="9.6" font-style="italic" dy="1.9">XY</tspan><tspan dy="-1.9">)</tspan></text>
<rect x="1095.75" y="424.2" width="402.54999999999995" height="51.30000000000001" fill="#fff" stroke="#222" stroke-width="1.2"/>
<ellipse cx="1103.50" cy="439.00" rx="3.5" ry="4.0" fill="#1a476f"/>
<text transform="translate(1114.00,445.00) scale(0.81,1)" font-size="16" text-anchor="start" stroke="#111" stroke-width="0.25">A vs B</text>
<ellipse cx="1172.25" cy="439.00" rx="3.5" ry="4.0" fill="#90353b"/>
<text transform="translate(1182.75,445.00) scale(0.81,1)" font-size="16" text-anchor="start" stroke="#111" stroke-width="0.25">A vs C</text>
<ellipse cx="1241.50" cy="439.00" rx="3.5" ry="4.0" fill="#55752f"/>
<text transform="translate(1252.00,445.00) scale(0.81,1)" font-size="16" text-anchor="start" stroke="#111" stroke-width="0.25">A vs D</text>
<ellipse cx="1311.75" cy="439.00" rx="3.5" ry="4.0" fill="#e37e00"/>
<text transform="translate(1322.25,445.00) scale(0.81,1)" font-size="16" text-anchor="start" stroke="#111" stroke-width="0.25">A vs F</text>
<ellipse cx="1381.50" cy="439.00" rx="3.5" ry="4.0" fill="#6e8e84"/>
<text transform="translate(1392.00,445.00) scale(0.81,1)" font-size="16" text-anchor="start" stroke="#111" stroke-width="0.25">A vs H</text>
<ellipse cx="1450.75" cy="439.00" rx="3.5" ry="4.0" fill="#c10534"/>
<text transform="translate(1461.00,445.00) scale(0.81,1)" font-size="16" text-anchor="start" stroke="#111" stroke-width="0.25">A vs I</text>
<ellipse cx="1103.50" cy="461.25" rx="3.5" ry="4.0" fill="#938dd2"/>
<text transform="translate(1114.00,467.25) scale(0.81,1)" font-size="16" text-anchor="start" stroke="#111" stroke-width="0.25">A vs E</text>
<ellipse cx="1172.25" cy="461.25" rx="3.5" ry="4.0" fill="#cac27e"/>
<text transform="translate(1182.75,467.25) scale(0.81,1)" font-size="16" text-anchor="start" stroke="#111" stroke-width="0.25">B vs D</text>
<ellipse cx="1241.50" cy="461.25" rx="3.5" ry="4.0" fill="#a0522d"/>
<text transform="translate(1252.00,467.25) scale(0.81,1)" font-size="16" text-anchor="start" stroke="#111" stroke-width="0.25">B vs G</text>
<ellipse cx="1311.75" cy="461.25" rx="3.5" ry="4.0" fill="#000000"/>
<text transform="translate(1322.25,467.25) scale(0.81,1)" font-size="16" text-anchor="start" stroke="#111" stroke-width="0.25">B vs H</text>
<text transform="translate(4.1,25) scale(0.96,1)" font-size="29" font-weight="bold" fill="#000" stroke="#000" stroke-width="0.5">A</text>
<text transform="translate(525.9,25) scale(0.92,1)" font-size="29" font-weight="bold" fill="#000" stroke="#000" stroke-width="0.5">B</text>
<text transform="translate(1023.6,25) scale(0.9,1)" font-size="29" font-weight="bold" fill="#000" stroke="#000" stroke-width="0.5">C</text>
</svg></body></html>
